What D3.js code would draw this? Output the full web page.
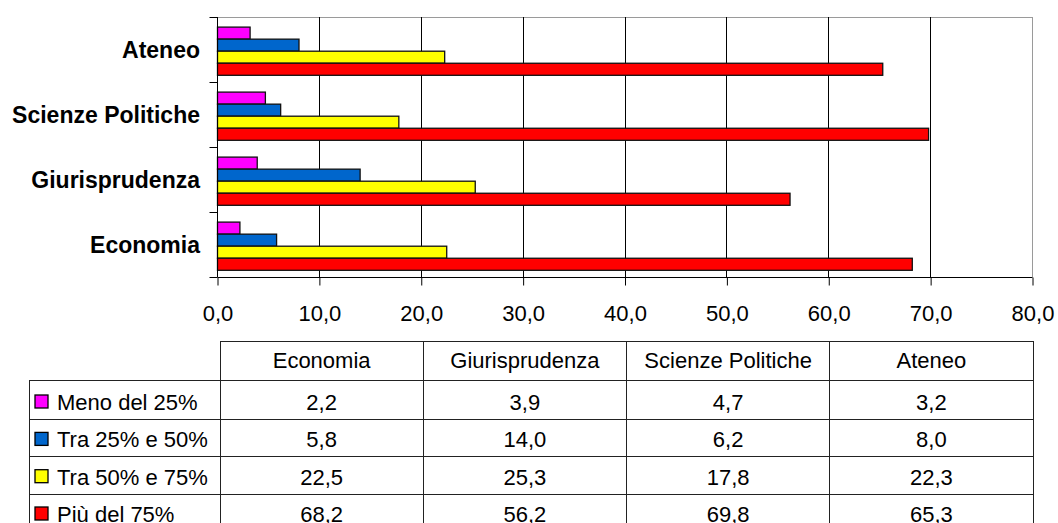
<!DOCTYPE html>
<html>
<head>
<meta charset="utf-8">
<script src="https://cdn.jsdelivr.net/npm/d3@7"></script>
<style>
  html, body { margin: 0; padding: 0; background: #fff; }
  svg { display: block; font-family: "Liberation Sans", Arial, sans-serif; }
  svg text { font-family: "Liberation Sans", Arial, sans-serif; }
</style>
</head>
<body>
<svg id="chart" width="1058" height="523"></svg>
<script>
// ---- data ----
const categories = ["Economia", "Giurisprudenza", "Scienze Politiche", "Ateneo"];
const seriesNames = ["Meno del 25%", "Tra 25% e 50%", "Tra 50% e 75%", "Più del 75%"];
const seriesColors = ["#FF00FF", "#0066CC", "#FFFF00", "#FF0000"];
const meno25 = [2.2, 3.9, 4.7, 3.2];
const tra25_50 = [5.8, 14.0, 6.2, 8.0];
const tra50_75 = [22.5, 25.3, 17.8, 22.3];
const piu75 = [68.2, 56.2, 69.8, 65.3];
const xTicks = [0, 10, 20, 30, 40, 50, 60, 70, 80];

const seriesValues = [meno25, tra25_50, tra50_75, piu75];
const fmt = v => d3.format(".1f")(v).replace(".", ",");

const svg = d3.select("#chart");

// ---- scales ----
const plot = { left: 217, right: 1032, top: 17, bottom: 277 };
const x = d3.scaleLinear().domain([0, 80]).range([plot.left, plot.right]);
const yCat = d3.scaleBand().domain(categories.slice().reverse()).range([plot.top, plot.bottom]).padding(0);
const ySer = d3.scaleBand().domain(seriesNames).range([9.6, 57.8]).padding(0);

// ---- plot frame (top/right grey) ----
svg.append("line").attr("x1", plot.left).attr("x2", plot.right).attr("y1", plot.top + 0.5).attr("y2", plot.top + 0.5)
  .attr("stroke", "#9a9a9a").attr("stroke-width", 1);
svg.append("line").attr("x1", plot.right + 0.5).attr("x2", plot.right + 0.5).attr("y1", plot.top).attr("y2", plot.bottom)
  .attr("stroke", "#9a9a9a").attr("stroke-width", 1);

// ---- grid lines ----
svg.append("g").selectAll("line").data(xTicks.filter(t => t > 0 && t < 80)).join("line")
  .attr("x1", d => Math.round(x(d)) + 0.5).attr("x2", d => Math.round(x(d)) + 0.5)
  .attr("y1", plot.top).attr("y2", plot.bottom)
  .attr("stroke", "#000").attr("stroke-width", 1);

// ---- bars ----
const barData = [];
categories.forEach((c, ci) => {
  seriesNames.forEach((s, si) => {
    barData.push({ cat: c, ser: s, value: seriesValues[si][ci], color: seriesColors[si] });
  });
});
svg.append("g").selectAll("rect").data(barData).join("rect")
  .attr("x", x(0) + 0.5)
  .attr("y", d => yCat(d.cat) + ySer(d.ser) + 0.5)
  .attr("width", d => x(d.value) - x(0))
  .attr("height", ySer.bandwidth())
  .attr("fill", d => d.color)
  .attr("stroke", "#111").attr("stroke-width", 1.3);

// ---- x axis ----
const xAxis = d3.axisBottom(x).tickValues(xTicks).tickSize(8).tickFormat(fmt);
const gx = svg.append("g").attr("transform", `translate(0.5,${plot.bottom + 0.5})`).call(xAxis);
gx.attr("font-family", null).attr("font-size", null);
gx.select(".domain").attr("stroke", "#000").attr("d", `M${plot.left},0H${plot.right}`);
gx.selectAll(".tick line").attr("stroke", "#000");
gx.selectAll(".tick text").attr("font-size", 22).attr("fill", "#000")
  .attr("dy", null).attr("y", 43.5);

// ---- y axis ----
const gy = svg.append("g").attr("transform", `translate(${plot.left + 0.5},0)`);
gy.append("line").attr("x1", 0).attr("x2", 0).attr("y1", plot.top).attr("y2", plot.bottom).attr("stroke", "#000");
const bounds = yCat.domain().map(c => yCat(c)).concat([plot.bottom]);
gy.selectAll("line.tk").data(bounds).join("line").attr("class", "tk")
  .attr("x1", -8).attr("x2", 0).attr("y1", d => Math.round(d) + 0.5).attr("y2", d => Math.round(d) + 0.5)
  .attr("stroke", "#000");
svg.append("g").selectAll("text").data(yCat.domain()).join("text")
  .attr("x", 200).attr("y", d => yCat(d) + yCat.bandwidth() / 2 + 8)
  .attr("text-anchor", "end").attr("font-size", 23).attr("font-weight", "bold").attr("fill", "#000")
  .text(d => d);

// ---- data table ----
const tbl = { left: 29, colLeft: 220, right: 1033, top: 341 };
const rowBounds = [380, 419.3, 456.7, 494, 531.3];
const col = d3.scaleBand().domain(categories).range([tbl.colLeft, tbl.right]).padding(0);
const tg = svg.append("g").attr("stroke", "#222").attr("stroke-width", 1).attr("shape-rendering", "crispEdges");
// header box
tg.append("line").attr("x1", tbl.colLeft).attr("x2", tbl.right).attr("y1", tbl.top).attr("y2", tbl.top);
// horizontal row lines
tg.selectAll("line.h").data(rowBounds).join("line").attr("class", "h")
  .attr("x1", tbl.left).attr("x2", tbl.right).attr("y1", d => d).attr("y2", d => d);
// vertical lines
tg.append("line").attr("x1", tbl.left).attr("x2", tbl.left).attr("y1", rowBounds[0]).attr("y2", 540);
const vlines = categories.map(c => col(c)).concat([tbl.right]);
tg.selectAll("line.v").data(vlines).join("line").attr("class", "v")
  .attr("x1", d => d).attr("x2", d => d).attr("y1", tbl.top).attr("y2", 540);

// header text
svg.append("g").selectAll("text").data(categories).join("text")
  .attr("x", d => col(d) + col.bandwidth() / 2).attr("y", (tbl.top + rowBounds[0]) / 2 + 7.8)
  .attr("text-anchor", "middle").attr("font-size", 22).attr("fill", "#000")
  .text(d => d);

// rows
seriesNames.forEach((s, si) => {
  const yb = rowBounds[si + 1] - 9.5;
  const yc = yb - 7.8;
  const row = svg.append("g");
  row.append("rect").attr("x", 35).attr("y", yc - 7).attr("width", 13).attr("height", 13)
    .attr("fill", seriesColors[si]).attr("stroke", "#000").attr("stroke-width", 1.3);
  row.append("text").attr("x", 57).attr("y", yb).attr("font-size", 22).attr("fill", "#000").text(s);
  row.selectAll("text.v").data(categories).join("text").attr("class", "v")
    .attr("x", d => col(d) + col.bandwidth() / 2).attr("y", yb)
    .attr("text-anchor", "middle").attr("font-size", 22).attr("fill", "#000")
    .text((d, ci) => fmt(seriesValues[si][ci]));
});
</script>
</body>
</html>
